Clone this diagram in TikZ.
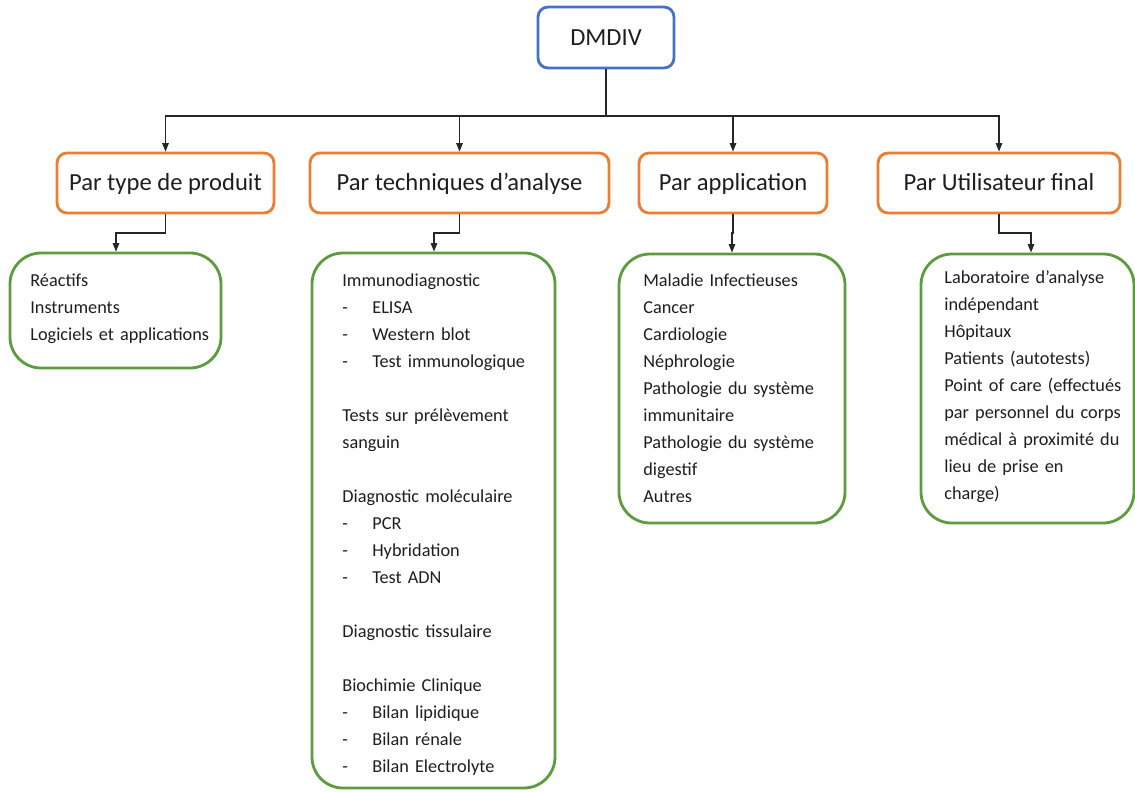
\documentclass[tikz,border=0pt]{standalone}
\usepackage{fontspec}
\setmainfont{Carlito}
\usetikzlibrary{arrows.meta,fit}
\definecolor{cblue}{HTML}{4472C4}
\definecolor{corange}{HTML}{ED7D31}
\definecolor{cgreen}{HTML}{5E9B3E}
\definecolor{ctext}{HTML}{1E1E1E}
\newcommand\itm[1]{\makebox[0.6cm][l]{-}#1}
\tikzset{
  topbox/.style={draw=cblue, line width=1.6pt, rounded corners=0.2cm, inner sep=0pt, font=\fontsize{14}{17}\selectfont, text=ctext, minimum width=2.72cm, minimum height=1.22cm, text height=12pt, text depth=2.9pt},
  hdrbox/.style={draw=corange, line width=1.6pt, rounded corners=0.2cm, inner sep=0pt, font=\fontsize{14}{17}\selectfont, text=ctext, minimum height=1.2cm, text height=12pt, text depth=2.9pt},
  grbox/.style={draw=cgreen, line width=1.6pt, rounded corners=0.62cm, inner sep=0pt},
  listtxt/.style={anchor=base west, inner sep=0pt, text width=6cm, align=left, font=\fontsize{10.4}{15.37}\selectfont, text=ctext},
  link/.style={draw=black!85, line width=0.7pt},
  arr/.style={link, -{Triangle[length=0.17cm,width=0.13cm]}}
}
\begin{document}
\begin{tikzpicture}[x=0.02cm,y=-0.02cm]
\useasboundingbox (0,0) rectangle (1135,791);
% top
\node[topbox] (top) at (606,37.5) {DMDIV};
% headers
\node[hdrbox, minimum width=4.34cm] (h1) at (165.5,183) {Par type de produit};
\node[hdrbox, minimum width=5.98cm] (h2) at (459.5,183) {Par techniques d’analyse};
\node[hdrbox, minimum width=3.76cm] (h3) at (733,183) {Par application};
\node[hdrbox, minimum width=4.84cm] (h4) at (999,183) {Par Utilisateur final};
% green boxes
\node[grbox, fit={(10,253) (221,368)}] (g1) {};
\node[grbox, fit={(312,253) (555,788)}] (g2) {};
\node[grbox, fit={(619,254) (845,523)}] (g3) {};
\node[grbox, fit={(921,254) (1134,523)}] (g4) {};
% connectors
\coordinate (bus) at (606,116);
\draw[link] (top.south) -- (bus);
\draw[arr] (bus) -| (h1.north);
\draw[arr] (bus) -| (h2.north);
\draw[arr] (bus) -| (h3.north);
\draw[arr] (bus) -| (h4.north);
\coordinate (j1) at (116,233);
\coordinate (j2) at (434,233);
\coordinate (j3) at (732,233);
\coordinate (j4) at (1031,233);
\draw[arr] (h1.south) |- (j1) -- (j1 |- g1.north);
\draw[arr] (h2.south) |- (j2) -- (j2 |- g2.north);
\draw[arr] (h3.south) |- (j3) -- (j3 |- g3.north);
\draw[arr] (h4.south) |- (j4) -- (j4 |- g4.north);
% texts
\node[listtxt] (t1) at (30,286) {Réactifs\\Instruments\\Logiciels et applications};
\node[listtxt] (t2) at (342,286) {Immunodiagnostic\\
\itm{ELISA}\\
\itm{Western blot}\\
\itm{Test immunologique}\\
\mbox{}\\
Tests sur prélèvement\\
sanguin\\
\mbox{}\\
Diagnostic moléculaire\\
\itm{PCR}\\
\itm{Hybridation}\\
\itm{Test ADN}\\
\mbox{}\\
Diagnostic tissulaire\\
\mbox{}\\
Biochimie Clinique\\
\itm{Bilan lipidique}\\
\itm{Bilan rénale}\\
\itm{Bilan Electrolyte}};
\node[listtxt] (t3) at (643,286) {Maladie Infectieuses\\
Cancer\\
Cardiologie\\
Néphrologie\\
Pathologie du système\\
immunitaire\\
Pathologie du système\\
digestif\\
Autres};
\node[listtxt] (t4) at (944,283) {Laboratoire d’analyse\\
indépendant\\
Hôpitaux\\
Patients (autotests)\\
Point of care (effectués\\
par personnel du corps\\
médical à proximité du\\
lieu de prise en\\
charge)};
\end{tikzpicture}
\end{document}
